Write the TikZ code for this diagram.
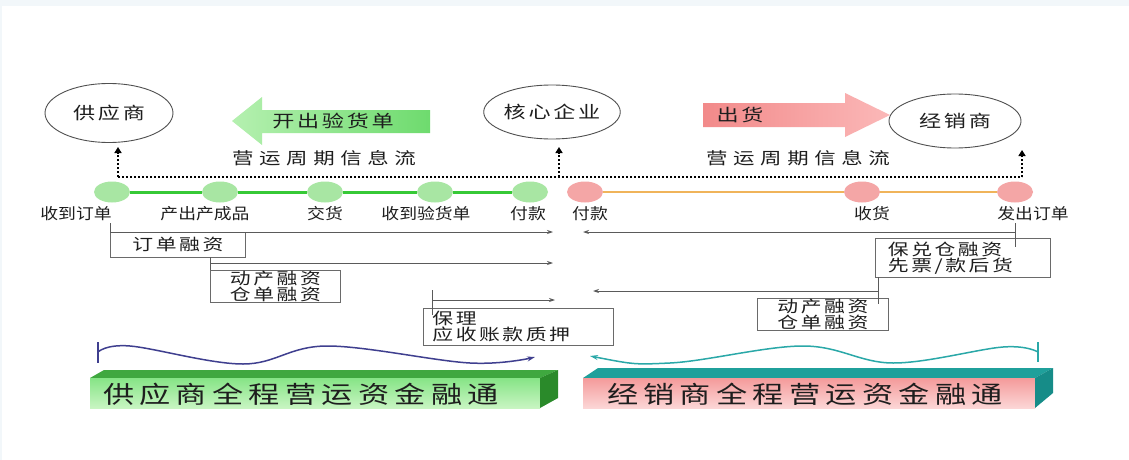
\documentclass[tikz,border=0pt]{standalone}
\usepackage{fontspec}
\newfontfamily\cjk[FakeStretch=1.15]{Noto Sans CJK SC}
\newfontfamily\cjkb[FakeStretch=1.3,LetterSpace=16]{Noto Sans CJK SC}
\newfontfamily\cjkc[FakeStretch=1.3,LetterSpace=34]{Noto Sans CJK SC}
\newfontfamily\cjkd[FakeStretch=1.3,LetterSpace=22]{Noto Sans CJK SC}
\usetikzlibrary{arrows.meta,shapes.geometric}
\definecolor{bgblue}{HTML}{F2F7FA}
\definecolor{txt}{HTML}{1E1E1E}
\definecolor{ellgray}{HTML}{505050}
\definecolor{gline}{HTML}{36C936}
\definecolor{gnode}{HTML}{A8E6A3}
\definecolor{oline}{HTML}{F0B45A}
\definecolor{pnode}{HTML}{F4A6A6}
\definecolor{linegray}{HTML}{5A5A5A}
\definecolor{boxgray}{HTML}{6A6A6A}
\definecolor{wavea}{HTML}{3F3F8F}
\definecolor{waveb}{HTML}{2AA8A8}
\definecolor{garra}{HTML}{B5F0B0}
\definecolor{garrb}{HTML}{6EDB6E}
\definecolor{parra}{HTML}{F28A8A}
\definecolor{parrb}{HTML}{FBB8B8}
\definecolor{gtop}{HTML}{3FA83F}
\definecolor{gside}{HTML}{2A8A2A}
\definecolor{gfronta}{HTML}{86E486}
\definecolor{gfrontb}{HTML}{C8F5C2}
\definecolor{ptop}{HTML}{1FA09B}
\definecolor{pside}{HTML}{168C88}
\definecolor{pfronta}{HTML}{F49A9A}
\definecolor{pfrontb}{HTML}{FCD6D6}
\begin{document}
\begin{tikzpicture}[x=1pt,y=-1pt,
  lbl/.style={font=\cjk\fontsize{15.5}{17}\selectfont, text=txt, inner sep=0pt},
  flow/.style={font=\cjkc\fontsize{16.5}{18}\selectfont, text=txt, inner sep=0pt},
  ell/.style={ellipse, draw=ellgray, line width=0.9pt, fill=white, inner sep=0pt, font=\cjkb\fontsize{17}{19}\selectfont, text=txt},
  atext/.style={font=\cjkb\fontsize{17}{19}\selectfont, text=txt, inner sep=0pt},
  gdot/.style={ellipse, fill=gnode, minimum width=36pt, minimum height=21pt, inner sep=0pt},
  pdot/.style={ellipse, fill=pnode, minimum width=36pt, minimum height=21pt, inner sep=0pt},
  info/.style={line width=2.2pt, dash pattern=on 2pt off 2pt, draw=black},
  infoarr/.style={info, -{Triangle[length=6pt,width=7pt]}},
  fbox/.style={draw=boxgray, line width=0.8pt, inner sep=0pt, font=\cjkb\fontsize{16}{16}\selectfont, text=txt},
  conn/.style={draw=linegray, line width=0.8pt},
  farr/.style={conn, -{Stealth[length=6pt,width=4pt]}},
  wa/.style={draw=wavea, line width=1.5pt},
  wb/.style={draw=waveb, line width=1.5pt},
  bartext/.style={font=\cjkd\fontsize{24}{26}\selectfont, text=txt, inner sep=0pt}
]
\useasboundingbox (0,0) rectangle (1129,460);
\fill[bgblue] (0,0) rectangle (1129,460);
\fill[white] (2,6) rectangle (1129,460);

% ellipses
\node[ell, minimum width=128pt, minimum height=59pt] (sup) at (109,113) {供应商};
\node[ell, minimum width=125pt, minimum height=54pt] (core) at (552,112) {核心企业};
\node[ell, minimum width=132pt, minimum height=54pt] (dis) at (955,121) {经销商};

% big arrows
\shade[left color=garra, right color=garrb] (232,121) -- (262,97) -- (262,110) -- (430,110) -- (430,133) -- (262,133) -- (262,145) -- cycle;
\node[atext] (gtext) at (333,121) {开出验货单};
\shade[left color=parra, right color=parrb] (703,103) -- (845,103) -- (845,93) -- (890,115) -- (845,137) -- (845,127) -- (703,127) -- cycle;
\node[atext] (ptext) at (740,115) {出货};

% information flow
\coordinate (iL) at (118,177);
\coordinate (iM) at (559,177);
\coordinate (iR) at (1022,177);
\coordinate (uL) at (118,147);
\coordinate (uM) at (559,147);
\coordinate (uR) at (1022,150);
\draw[info] (iL) -- (iR);
\draw[infoarr] (iL) -- (uL);
\draw[infoarr] (iM) -- (uM);
\draw[infoarr] (iR) -- (uR);
\node[flow] (fl1) at (324,158) {营运周期信息流};
\node[flow] (fl2) at (798,158) {营运周期信息流};

% timelines
\node[gdot] (g1) at (112,192) {};
\node[gdot] (g2) at (220,192) {};
\node[gdot] (g3) at (325,192) {};
\node[gdot] (g4) at (435,192) {};
\node[gdot] (g5) at (530,192) {};
\node[pdot] (p1) at (585,192) {};
\node[pdot] (p2) at (862,192) {};
\node[pdot] (p3) at (1015,192) {};
\draw[gline, line width=3pt] (g1) -- (g2) -- (g3) -- (g4) -- (g5);
\draw[oline, line width=2.5pt] (p1) -- (p2) -- (p3);

\node[lbl] (l1) at (76,214) {收到订单};
\node[lbl] (l2) at (205,214) {产出产成品};
\node[lbl] (l3) at (325,214) {交货};
\node[lbl] (l4) at (426,214) {收到验货单};
\node[lbl] (l5) at (528,214) {付款};
\node[lbl] (l6) at (590,214) {付款};
\node[lbl] (l7) at (872,214) {收货};
\node[lbl] (l8) at (1033,214) {发出订单};

% financing boxes
\node[fbox, minimum width=135pt, minimum height=25pt, anchor=north west] (b1) at (110,232) {订单融资};
\node[fbox, minimum width=130pt, minimum height=32pt, anchor=north west, align=center] (b2) at (210,270) {动产融资\\仓单融资};
\node[fbox, minimum width=190pt, minimum height=37pt, anchor=north west, align=left, text width=172pt] (b3) at (423,308) {保理\\应收账款质押};
\node[fbox, minimum width=175pt, minimum height=39pt, anchor=north west, align=left, text width=150pt] (b4) at (875,238) {保兑仓融资\\先票/款后货};
\node[fbox, minimum width=131pt, minimum height=32pt, anchor=north west, align=center] (b5) at (757,298) {动产融资\\仓单融资};

% financing connectors
\coordinate (c1a) at (110,223);
\coordinate (t1) at (553,232);
\draw[conn] (c1a) -- (b1.north west);
\draw[farr] (b1.north west) -- (t1);

\coordinate (c2a) at (210,257);
\coordinate (s2) at (210,263);
\coordinate (t2) at (553,263);
\draw[conn] (c2a) -- (b2.north west);
\draw[farr] (s2) -- (t2);

\coordinate (c3a) at (432,290);
\coordinate (c3b) at (432,315);
\coordinate (s3) at (432,300);
\coordinate (t3) at (555,300);
\draw[conn] (c3a) -- (c3b);
\draw[farr] (s3) -- (t3);

\coordinate (c4a) at (1015,223);
\coordinate (c4b) at (1015,247);
\coordinate (s4) at (1015,232);
\coordinate (t4) at (583,232);
\draw[conn] (c4a) -- (c4b);
\draw[farr] (s4) -- (t4);

\coordinate (c5a) at (878,277);
\coordinate (c5b) at (878,304);
\coordinate (s5) at (878,291);
\coordinate (t5) at (593,291);
\draw[conn] (c5a) -- (c5b);
\draw[farr] (s5) -- (t5);

% waves
\coordinate (wl0) at (98,342);
\coordinate (wl1) at (98,363);
\draw[wa] (wl0) -- (wl1);
\draw[wa, -{Stealth[length=8pt,width=5pt]}] plot[smooth, tension=0.6] coordinates {(98,352) (130,346) (243,364) (327,346) (470,363) (535,357)};
\coordinate (wr0) at (1038,342);
\coordinate (wr1) at (1038,362);
\draw[wb] (wr0) -- (wr1);
\draw[wb, {Stealth[length=8pt,width=5pt]}-] plot[smooth, tension=0.6] coordinates {(590,356) (670,363) (803,346) (893,363) (1003,347) (1038,352)};

% 3D bars
\fill[gtop] (90,378) -- (104,370) -- (558,370) -- (540,378) -- cycle;
\shade[top color=gfronta, bottom color=gfrontb] (90,378) rectangle (540,408);
\fill[gside] (540,378) -- (558,370) -- (558,398) -- (540,408) -- cycle;
\node[bartext] (gbar) at (301,394) {供应商全程营运资金融通};

\fill[ptop] (583,378) -- (598,368) -- (1053,368) -- (1035,378) -- cycle;
\shade[top color=pfronta, bottom color=pfrontb] (583,378) rectangle (1035,408);
\fill[pside] (1035,378) -- (1053,368) -- (1053,393) -- (1035,408) -- cycle;
\node[bartext] (pbar) at (805,394) {经销商全程营运资金融通};
\end{tikzpicture}
\end{document}
